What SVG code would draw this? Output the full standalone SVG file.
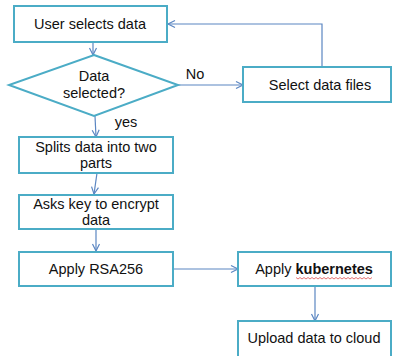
<svg xmlns="http://www.w3.org/2000/svg" width="394" height="356" viewBox="0 0 394 356">
<defs>
<style>
.box{fill:#fff;stroke:#4bacc6;stroke-width:2}
.ln{fill:none;stroke:#5b86c2;stroke-width:1.2}
text{font-family:"Liberation Sans",Arial,sans-serif;font-size:14.5px;fill:#111;text-anchor:middle}
</style>
<marker id="ah" markerWidth="10" markerHeight="10" refX="8" refY="5" orient="auto" markerUnits="userSpaceOnUse">
<polyline points="1,1.5 8,5 1,8.5" fill="none" stroke="#5b86c2" stroke-width="1.2"/>
</marker>
</defs>
<rect width="394" height="356" fill="#fff"/>
<g id="connectors">
<line class="ln" x1="93" y1="42" x2="93" y2="55" marker-end="url(#ah)"/>
<line class="ln" x1="178" y1="85" x2="243" y2="85" marker-end="url(#ah)"/>
<polyline class="ln" points="322,67 322,24 168,24" marker-end="url(#ah)"/>
<line class="ln" x1="95" y1="116" x2="96" y2="137" marker-end="url(#ah)"/>
<line class="ln" x1="97" y1="173" x2="94" y2="194" marker-end="url(#ah)"/>
<line class="ln" x1="96" y1="229" x2="96" y2="251" marker-end="url(#ah)"/>
<line class="ln" x1="173" y1="269" x2="238" y2="269" marker-end="url(#ah)"/>
<line class="ln" x1="315" y1="286" x2="315" y2="321" marker-end="url(#ah)"/>
<text x="195" y="79">No</text>
<text x="126" y="127">yes</text>
</g>
<g id="user-selects">
<rect class="box" x="14" y="6" width="153" height="36"/>
<text x="90" y="29">User selects data</text>
</g>
<g id="data-selected">
<polygon class="box" points="94,55 178,85 94,116 9,85"/>
<text x="94" y="81">Data</text>
<text x="94" y="98">selected?</text>
</g>
<g id="select-files">
<rect class="box" x="243" y="67" width="148" height="35"/>
<text x="320" y="90">Select data files</text>
</g>
<g id="splits">
<rect class="box" x="19" y="137" width="154" height="36"/>
<text x="96" y="152">Splits data into two</text>
<text x="96" y="168">parts</text>
</g>
<g id="asks-key">
<rect class="box" x="19" y="195" width="154" height="34"/>
<text x="96" y="209">Asks key to encrypt</text>
<text x="96" y="225">data</text>
</g>
<g id="rsa">
<rect class="box" x="19" y="252" width="154" height="34"/>
<text x="96" y="274">Apply RSA256</text>
</g>
<g id="kubernetes">
<rect class="box" x="238" y="252" width="153" height="34"/>
<text x="314" y="274">Apply <tspan font-weight="bold">kubernetes</tspan></text>
<polyline points="296,277.5 298,279 300,277.5 302,279 304,277.5 306,279 308,277.5 310,279 312,277.5 314,279 316,277.5 318,279 320,277.5 322,279 324,277.5 326,279 328,277.5 330,279 332,277.5 334,279 336,277.5 338,279 340,277.5 342,279 344,277.5 346,279 348,277.5 350,279 352,277.5 354,279 356,277.5 358,279 360,277.5 362,279 364,277.5 366,279 368,277.5 370,279 372,277.5" fill="none" stroke="#e05050" stroke-width="0.8"/>
</g>
<g id="upload">
<rect class="box" x="238" y="321" width="153" height="40"/>
<text x="314" y="343">Upload data to cloud</text>
</g>
</svg>
